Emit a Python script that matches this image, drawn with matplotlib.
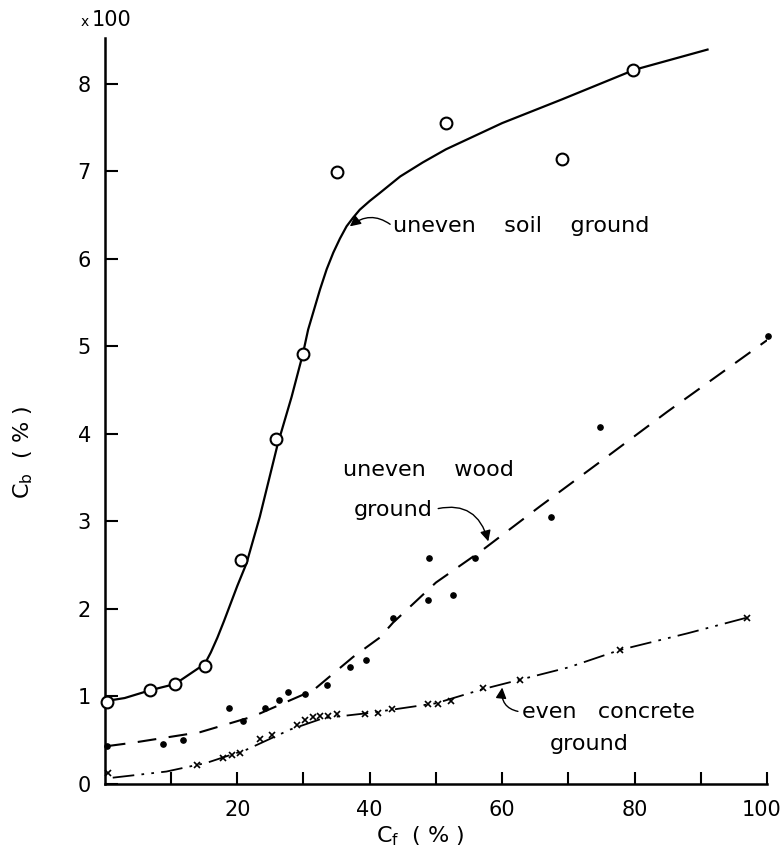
import matplotlib
matplotlib.use('Agg')
import matplotlib.pyplot as plt
import matplotlib.transforms as mtransforms
import numpy as np

# Uneven soil ground (open circles) and its fitted curve
soil_x = [0.3, 6.9, 10.6, 15.1, 20.5, 25.8, 29.9, 35.0, 51.5, 69.0, 79.8]
soil_y = [0.93, 1.07, 1.14, 1.35, 2.56, 3.94, 4.91, 6.99, 7.55, 7.14, 8.16]
soil_fit_x = [0.5, 3.0, 6.9, 10.6, 15.1, 16.0, 17.0, 18.0, 19.0, 20.0, 21.4,
              23.4, 26.1, 28.2, 29.9, 30.7, 32.5, 33.5, 34.5, 35.5, 36.5,
              37.5, 38.5, 40.0, 41.5, 44.6, 48.0, 51.5, 60.0, 69.0, 80.0,
              91.0]
soil_fit_y = [0.95, 0.98, 1.07, 1.14, 1.37, 1.50, 1.67, 1.86, 2.06, 2.26,
              2.52, 3.05, 3.88, 4.42, 4.91, 5.19, 5.65, 5.88, 6.07, 6.23,
              6.37, 6.47, 6.56, 6.66, 6.75, 6.94, 7.10, 7.25, 7.55, 7.82,
              8.16, 8.39]

# Uneven wood ground (filled dots) and dashed curve
wood_x = [0.3, 8.8, 11.8, 18.8, 20.8, 24.2, 26.3, 27.6, 30.2, 33.6, 37.0,
          39.4, 43.5, 48.8, 52.6, 48.9, 55.9, 67.4, 74.8, 100.2]
wood_y = [0.43, 0.46, 0.50, 0.87, 0.72, 0.87, 0.96, 1.05, 1.03, 1.13, 1.34,
          1.42, 1.90, 2.10, 2.16, 2.58, 2.58, 3.05, 4.08, 5.12]
wood_fit_x = [0.3, 4.3, 14.4, 22.4, 31.5, 37.5, 41.5, 43.5, 50.0, 57.0,
              65.7, 74.8, 84.9, 100.0]
wood_fit_y = [0.43, 0.47, 0.59, 0.77, 1.07, 1.45, 1.67, 1.84, 2.30, 2.67,
              3.17, 3.68, 4.25, 5.07]

# Even concrete ground (crosses) and dash-dot curve
conc_x = [0.5, 13.9, 17.8, 19.2, 20.4, 23.4, 25.2, 29.0, 30.2, 31.4, 32.5,
          33.7, 35.0, 39.3, 41.2, 43.4, 48.8, 50.3, 52.3, 57.1, 62.7, 77.8,
          97.0]
conc_y = [0.12, 0.21, 0.30, 0.33, 0.35, 0.51, 0.56, 0.67, 0.73, 0.76, 0.77,
          0.78, 0.80, 0.80, 0.81, 0.85, 0.91, 0.91, 0.95, 1.10, 1.19, 1.53,
          1.90]
conc_fit_x = [1.2, 9.3, 15.4, 21.4, 28.0, 33.0, 40.0, 50.0, 57.0, 62.7,
              70.0, 77.8, 88.0, 97.0]
conc_fit_y = [0.07, 0.14, 0.24, 0.39, 0.62, 0.75, 0.81, 0.92, 1.08, 1.19,
              1.33, 1.53, 1.72, 1.90]

x_ticks = np.arange(10, 101, 10)
x_labels = ['', '20', '', '40', '', '60', '', '80', '', '100']
y_ticks = np.arange(0, 9, 1)

plt.rcParams['font.family'] = 'DejaVu Sans'

fig = plt.figure(figsize=(7.82, 8.68), dpi=100)
ax = fig.add_axes([0.134, 0.097, 0.847, 0.859])

ax.plot(soil_fit_x, soil_fit_y, 'k-', lw=1.6)
ax.plot(soil_x, soil_y, 'o', ms=8.5, mfc='white', mec='black', mew=1.5,
        clip_on=False, zorder=4)

ax.plot(wood_fit_x, wood_fit_y, color='black', lw=1.5, linestyle=(0, (9, 6)))
ax.plot(wood_x, wood_y, 'ko', ms=3.8, clip_on=False, zorder=4)

ax.plot(conc_fit_x, conc_fit_y, color='black', lw=1.3,
        linestyle=(0, (12, 4, 1.5, 4, 1.5, 4)))
ax.plot(conc_x, conc_y, 'kx', ms=4.5, mew=1.2, clip_on=False, zorder=4)

# labels with curly leaders
ax.annotate('uneven    soil    ground', xy=(37.0, 6.37), xytext=(43.5, 6.37),
            fontsize=16, va='center', ha='left',
            arrowprops=dict(arrowstyle='-|>', color='black', lw=1.0,
                            connectionstyle='arc3,rad=0.4', relpos=(0, 0.5),
                            shrinkA=0, shrinkB=0))
ax.text(36.0, 3.59, 'uneven    wood', fontsize=16, va='center', ha='left')
ax.annotate('ground', xy=(57.9, 2.77), xytext=(37.6, 3.13),
            fontsize=16, va='center', ha='left',
            arrowprops=dict(arrowstyle='-|>', color='black', lw=1.0,
                            connectionstyle='arc3,rad=-0.5', relpos=(1, 0.5),
                            shrinkA=2, shrinkB=0))
ax.annotate('even   concrete', xy=(60.0, 1.10), xytext=(63.0, 0.82),
            fontsize=16, va='center', ha='left',
            arrowprops=dict(arrowstyle='-|>', color='black', lw=1.0,
                            connectionstyle='arc3,rad=-0.5', relpos=(0, 0.5),
                            shrinkA=1, shrinkB=0))
ax.text(73.1, 0.45, 'ground', fontsize=16, va='center', ha='center')

ax.set_xlim(0, 100)
ax.set_ylim(0, 8.52)
ax.set_xticks(x_ticks)
ax.set_xticklabels(x_labels)
ax.set_yticks(y_ticks)
ax.tick_params(direction='in', length=9, width=1.5, labelsize=15)
ax.tick_params(axis='x', pad=12)
ax.tick_params(axis='y', pad=10)
for s in ['top', 'right']:
    ax.spines[s].set_visible(False)
for s in ['left', 'bottom']:
    ax.spines[s].set_linewidth(1.8)

# nudge the "100" label so it stays inside the figure
last = ax.get_xticklabels()[-1]
last.set_transform(last.get_transform() +
                   mtransforms.ScaledTranslation(-6 / 100, 0, fig.dpi_scale_trans))

ax.set_xlabel(r'C$_{\rm f}$  ( % )', fontsize=16)
ax.xaxis.set_label_coords(0.477, -0.055)
ax.set_ylabel(r'C$_{\rm b}$  ( % )', fontsize=16)
ax.yaxis.set_label_coords(-0.105, 0.445)
fig.text(0.103, 0.975, 'x', fontsize=10, va='center', ha='left')
fig.text(0.117, 0.977, '100', fontsize=15, va='center', ha='left')

plt.savefig('out.png', dpi=100)
